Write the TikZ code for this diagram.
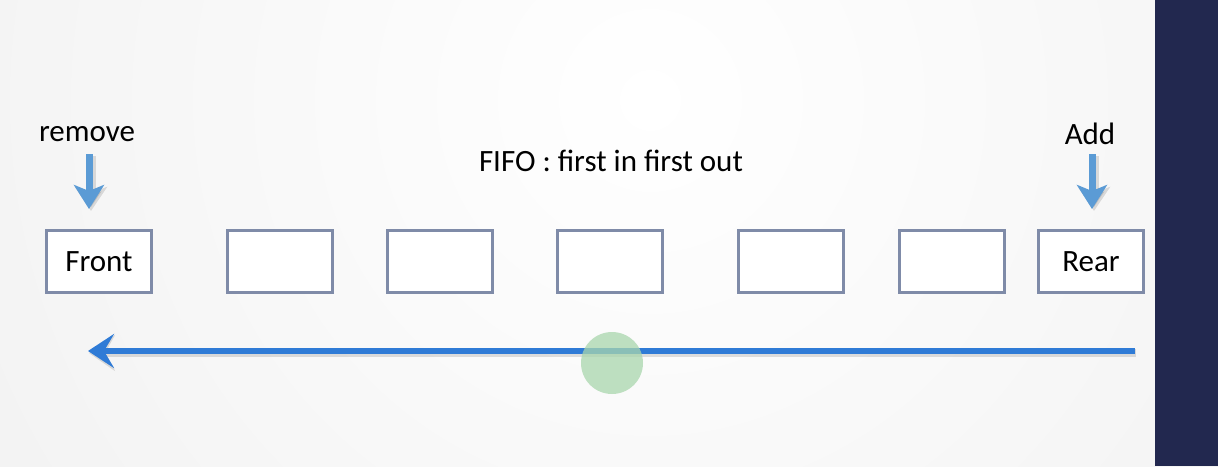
\documentclass[tikz,border=0pt]{standalone}
\usepackage{fontspec}
\setmainfont{Carlito}
\usetikzlibrary{arrows.meta}
\definecolor{navy}{HTML}{22284F}
\definecolor{boxline}{HTML}{7F8BA8}
\definecolor{lightblue}{HTML}{5B9BD5}
\definecolor{mainblue}{HTML}{2F7BD6}
\definecolor{dotgreen}{HTML}{A9D6AD}
\tikzset{
  cell/.style={draw=boxline, line width=2.8pt, fill=white, minimum width=105pt, minimum height=62pt, inner sep=0pt, font=\fontsize{31}{34}\selectfont},
  lbl/.style={font=\fontsize{31}{34}\selectfont, inner sep=0pt},
  downtip/.style={-{Stealth[length=24pt,width=30pt,inset=6pt]}},
  downarrow/.style={draw=lightblue, line width=7pt, downtip},
  softshadow/.style={draw=black, opacity=0.12, line width=9pt},
}
\begin{document}
\begin{tikzpicture}[x=1pt,y=-1pt]
\useasboundingbox (0,0) rectangle (1218,466);
\shade[inner color=white, outer color=gray!18] (-750,-1300) rectangle (2050,1500);
\fill[navy] (1155,0) rectangle (1218,466);
% boxes
\node[cell] (b1) at (99,261.5) {Front};
\node[cell] (b2) at (280,261.5) {};
\node[cell] (b3) at (440,261.5) {};
\node[cell] (b4) at (610,261.5) {};
\node[cell] (b5) at (791,261.5) {};
\node[cell] (b6) at (952,261.5) {};
\node[cell] (b7) at (1091,261.5) {Rear};
% labels
\node[lbl] (rm) at (87,134) {remove};
\node[lbl] (add) at (1090,134) {Add};
\node[lbl] (fifo) at (611,161) {FIFO : first in first out};
\coordinate (rmS) at (89,154);
\coordinate (rmE) at (89,209);
\coordinate (adS) at (1092,154);
\coordinate (adE) at (1092,209);
\draw[softshadow, -{Stealth[length=24pt,width=32pt,inset=6pt]}, transform canvas={shift={(2pt,-2pt)}}] (rmS) -- (rmE);
\draw[softshadow, -{Stealth[length=24pt,width=32pt,inset=6pt]}, transform canvas={shift={(2pt,-2pt)}}] (adS) -- (adE);
\draw[downarrow] (rmS) -- (rmE);
\draw[downarrow] (adS) -- (adE);
% long arrow
\coordinate (lS) at (1135,351);
\coordinate (lE) at (88,351);
\draw[softshadow, line width=8pt, -{Stealth[length=26pt,width=36pt,inset=10pt]}, transform canvas={shift={(1pt,-2pt)}}] (lS) -- (lE);
\draw[mainblue, line width=6pt, -{Stealth[length=26pt,width=34pt,inset=10pt]}] (lS) -- (lE);
% green dot
\fill[dotgreen, opacity=0.75] (612,363) circle (31);
\end{tikzpicture}
\end{document}
